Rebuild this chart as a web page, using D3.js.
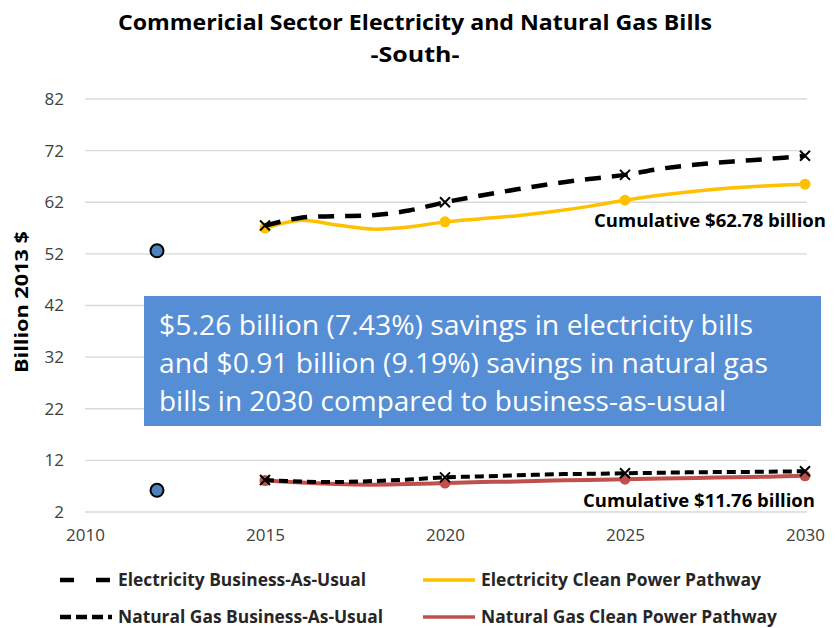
<!DOCTYPE html>
<html>
<head>
<meta charset="utf-8">
<script src="https://cdn.jsdelivr.net/npm/d3@7"></script>
<style>
  body { margin: 0; background: #fff; }
  svg text { font-family: "Open Sans", "Noto Sans", sans-serif; }
</style>
</head>
<body>
<div id="chart"></div>
<script>
// data (billion 2013 $)
var years = [2015, 2016, 2017, 2018, 2019, 2020, 2021, 2022, 2023, 2024, 2025, 2026, 2027, 2028, 2029, 2030]
var elecBAU = [57.5, 59.0, 59.3, 59.5, 60.4, 62.0, 63.3, 64.5, 65.6, 66.5, 67.3, 68.5, 69.3, 69.9, 70.4, 71.0]
var elecCPP = [57.0, 58.5, 57.6, 56.8, 57.2, 58.2, 58.8, 59.4, 60.2, 61.2, 62.4, 63.4, 64.2, 64.8, 65.2, 65.5]
var gasBAU = [8.2, 7.9, 7.8, 8.0, 8.3, 8.7, 8.9, 9.1, 9.3, 9.4, 9.5, 9.6, 9.7, 9.75, 9.8, 9.9]
var gasCPP = [8.1, 7.7, 7.4, 7.3, 7.4, 7.6, 7.8, 7.9, 8.1, 8.2, 8.35, 8.5, 8.6, 8.75, 8.85, 9.0]
var markerYears = [2015, 2020, 2025, 2030]
var histYear = 2012
var histValues = [52.6, 6.2]   // electricity, natural gas
var yTicks = [2, 12, 22, 32, 42, 52, 62, 72, 82]
var xTicks = [2010, 2015, 2020, 2025, 2030]
var boxLines = [
  "$5.26 billion (7.43%) savings in electricity bills",
  "and $0.91 billion (9.19%) savings in natural gas",
  "bills in 2030 compared to business-as-usual"
]

var width = 837, height = 628

var svg = d3.select("#chart").append("svg")
  .attr("width", width)
  .attr("height", height)

var x = d3.scaleLinear().domain([2010, 2030]).range([85, 805])
var y = d3.scaleLinear().domain([2, 82]).range([512, 99])

// title
svg.append("text").attr("x", 415).attr("y", 30).attr("text-anchor", "middle")
  .style("font-size", "22px").style("font-weight", "bold")
  .attr("textLength", 594).attr("lengthAdjust", "spacingAndGlyphs")
  .text("Commericial Sector Electricity and Natural Gas Bills")
svg.append("text").attr("x", 415).attr("y", 62).attr("text-anchor", "middle")
  .style("font-size", "22px").style("font-weight", "bold")
  .attr("textLength", 89).attr("lengthAdjust", "spacingAndGlyphs")
  .text("-South-")

// gridlines
svg.append("g").selectAll("line")
  .data(yTicks)
  .enter().append("line")
  .attr("x1", x(2010)).attr("x2", x(2030) + 2)
  .attr("y1", d => y(d)).attr("y2", d => y(d))
  .attr("stroke", "#d9d9d9").attr("stroke-width", 1.3)

// axes
var yAxis = svg.append("g")
  .attr("transform", "translate(" + x(2010) + ",0)")
  .call(d3.axisLeft(y).tickValues(yTicks).tickSize(0).tickPadding(21))
yAxis.select(".domain").remove()
yAxis.selectAll("text").style("font-size", "17px").attr("fill", "#404040")
  .style("font-family", "Open Sans, sans-serif")

var xAxis = svg.append("g")
  .attr("transform", "translate(0," + y(2) + ")")
  .call(d3.axisBottom(x).tickValues(xTicks).tickFormat(d3.format("d")).tickSize(0).tickPadding(17))
xAxis.select(".domain").remove()
xAxis.selectAll("text").style("font-size", "17px").attr("fill", "#404040")
  .style("font-family", "Open Sans, sans-serif")

svg.append("text")
  .attr("transform", "translate(28,302) rotate(-90)")
  .attr("text-anchor", "middle")
  .style("font-size", "18px").style("font-weight", "bold")
  .attr("textLength", 142).attr("lengthAdjust", "spacingAndGlyphs")
  .text("Billion 2013 $")

var line = d3.line()
  .x((d, i) => x(years[i]))
  .y(d => y(d))
  .curve(d3.curveCatmullRom.alpha(0.5))

function drawSeries(values, color, w, dash) {
  svg.append("path")
    .datum(values)
    .attr("d", line)
    .attr("fill", "none")
    .attr("stroke", color)
    .attr("stroke-width", w)
    .attr("stroke-dasharray", dash)
}

function drawCircles(values, color) {
  svg.append("g").selectAll("circle")
    .data(markerYears)
    .enter().append("circle")
    .attr("cx", d => x(d))
    .attr("cy", d => y(values[years.indexOf(d)]))
    .attr("r", 5.5)
    .attr("fill", color)
}

function drawCrosses(values) {
  svg.append("g").selectAll("path")
    .data(markerYears)
    .enter().append("path")
    .attr("transform", d => "translate(" + x(d) + "," + y(values[years.indexOf(d)]) + ")")
    .attr("d", "M-5,-5L5,5M-5,5L5,-5")
    .attr("stroke", "#000")
    .attr("stroke-width", 2)
}

drawSeries(gasCPP, "#c0504d", 4, null)
drawCircles(gasCPP, "#c0504d")
drawSeries(gasBAU, "#000", 4, "9,5")
drawCrosses(gasBAU)

drawSeries(elecCPP, "#ffc000", 3.5, null)
drawCircles(elecCPP, "#ffc000")
drawSeries(elecBAU, "#000", 4.5, "16,11")
drawCrosses(elecBAU)

// 2012 historical points
svg.append("g").selectAll("circle")
  .data(histValues)
  .enter().append("circle")
  .attr("cx", x(histYear))
  .attr("cy", d => y(d))
  .attr("r", 6.5)
  .attr("fill", "#4f81bd")
  .attr("stroke", "#000")
  .attr("stroke-width", 2)

// cumulative labels
svg.append("text").attr("x", 826).attr("y", 227).attr("text-anchor", "end")
  .style("font-size", "17px").style("font-weight", "bold")
  .attr("textLength", 232).attr("lengthAdjust", "spacingAndGlyphs")
  .text("Cumulative $62.78 billion")
svg.append("text").attr("x", 815).attr("y", 507).attr("text-anchor", "end")
  .style("font-size", "17px").style("font-weight", "bold")
  .attr("textLength", 232).attr("lengthAdjust", "spacingAndGlyphs")
  .text("Cumulative $11.76 billion")

// annotation box
svg.append("rect")
  .attr("x", 144).attr("y", 296).attr("width", 677).attr("height", 130)
  .attr("fill", "#558ed5")
var boxWidths = [594, 609, 567]
svg.append("g").selectAll("text")
  .data(boxLines)
  .enter().append("text")
  .attr("x", 159)
  .attr("y", (d, i) => 335 + i * 38)
  .attr("fill", "#fff")
  .style("font-size", "27px")
  .attr("textLength", (d, i) => boxWidths[i])
  .attr("lengthAdjust", "spacingAndGlyphs")
  .text(d => d)

// legend
var legendItems = [
  {label: "Electricity Business-As-Usual", color: "#000", dash: "14,22", w: 4.5, lx: 60, ly: 580, tw: 248},
  {label: "Electricity Clean Power Pathway", color: "#ffc000", dash: null, w: 3.5, lx: 423, ly: 580, tw: 280},
  {label: "Natural Gas Business-As-Usual", color: "#000", dash: "11,5", w: 4.5, lx: 60, ly: 617, tw: 265},
  {label: "Natural Gas Clean Power Pathway", color: "#c0504d", dash: null, w: 3.5, lx: 423, ly: 617, tw: 296}
]
var legend = svg.append("g").selectAll("g")
  .data(legendItems)
  .enter().append("g")
legend.append("line")
  .attr("x1", d => d.lx).attr("x2", d => d.lx + 52)
  .attr("y1", d => d.ly).attr("y2", d => d.ly)
  .attr("stroke", d => d.color)
  .attr("stroke-width", d => d.w)
  .attr("stroke-dasharray", d => d.dash)
legend.append("text")
  .attr("x", d => d.lx + 58)
  .attr("y", d => d.ly + 6)
  .style("font-size", "17px").style("font-weight", "bold")
  .attr("fill", "#262626")
  .attr("textLength", d => d.tw)
  .attr("lengthAdjust", "spacingAndGlyphs")
  .text(d => d.label)
</script>
</body>
</html>
